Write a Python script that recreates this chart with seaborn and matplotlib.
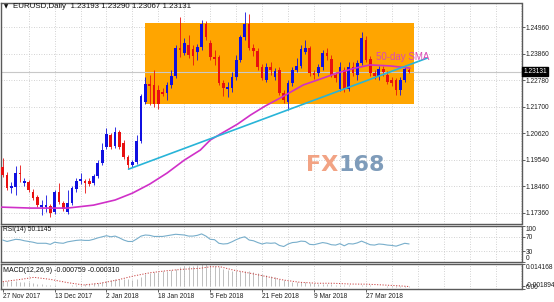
import numpy as np
import pandas as pd
import matplotlib
matplotlib.use("Agg")
import matplotlib.pyplot as plt
import matplotlib.transforms as mtransforms
from matplotlib.patches import Rectangle
import seaborn as sns

sns.set_theme(style="white")
plt.rcParams['font.family'] = ['Liberation Sans', 'DejaVu Sans']

# ---------------- data ----------------
date_label_bars = [0, 12, 24, 36, 48, 60, 72, 84]
date_labels = ["27 Nov 2017", "13 Dec 2017", "2 Jan 2018", "18 Jan 2018",
               "5 Feb 2018", "21 Feb 2018", "9 Mar 2018", "27 Mar 2018"]

opens = [1.1924, 1.1891, 1.1838, 1.1842, 1.1899, 1.1858, 1.1863, 1.1822, 1.1801, 1.1760,
         1.1760, 1.1764, 1.1740, 1.1822, 1.1777, 1.1740, 1.1777, 1.1834, 1.1867, 1.1867,
         1.1867, 1.1858, 1.1887, 1.1940, 1.2006, 1.2055, 1.2010, 1.2067, 1.2022, 1.1965,
         1.1932, 1.1944, 1.2030, 1.2189, 1.2263, 1.2259, 1.2239, 1.2230, 1.2226, 1.2259,
         1.2296, 1.2410, 1.2390, 1.2422, 1.2406, 1.2394, 1.2414, 1.2508, 1.2431, 1.2373,
         1.2373, 1.2267, 1.2243, 1.2247, 1.2292, 1.2361, 1.2455, 1.2508, 1.2410, 1.2398,
         1.2333, 1.2279, 1.2333, 1.2292, 1.2320, 1.2226, 1.2189, 1.2267, 1.2320, 1.2337,
         1.2394, 1.2410, 1.2308, 1.2308, 1.2333, 1.2390, 1.2365, 1.2300, 1.2243, 1.2320,
         1.2243, 1.2333, 1.2300, 1.2349, 1.2443, 1.2365, 1.2308, 1.2296, 1.2324, 1.2300,
         1.2279, 1.2279, 1.2239, 1.2279, 1.23193]
highs = [1.1961, 1.1903, 1.1863, 1.1928, 1.1932, 1.1879, 1.1871, 1.1834, 1.1809, 1.1789,
         1.1809, 1.1773, 1.1830, 1.1858, 1.1785, 1.1830, 1.1846, 1.1879, 1.1899, 1.1875,
         1.1879, 1.1895, 1.1952, 1.2022, 1.2083, 1.2063, 1.2087, 1.2075, 1.2034, 1.1973,
         1.1952, 1.2055, 1.2222, 1.2292, 1.2300, 1.2320, 1.2259, 1.2247, 1.2271, 1.2320,
         1.2422, 1.2537, 1.2451, 1.2463, 1.2422, 1.2427, 1.2525, 1.2521, 1.2443, 1.2402,
         1.2382, 1.2279, 1.2271, 1.2312, 1.2382, 1.2463, 1.2557, 1.2549, 1.2427, 1.2410,
         1.2345, 1.2349, 1.2353, 1.2328, 1.2333, 1.2239, 1.2279, 1.2333, 1.2369, 1.2422,
         1.2443, 1.2418, 1.2320, 1.2345, 1.2402, 1.2410, 1.2382, 1.2312, 1.2353, 1.2333,
         1.2353, 1.2353, 1.2361, 1.2476, 1.2459, 1.2377, 1.2320, 1.2337, 1.2337, 1.2316,
         1.2292, 1.2288, 1.2292, 1.2337, 1.23290]
lows = [1.1883, 1.1830, 1.1818, 1.1809, 1.1863, 1.1846, 1.1822, 1.1789, 1.1760, 1.1728,
        1.1740, 1.1719, 1.1732, 1.1773, 1.1744, 1.1732, 1.1769, 1.1822, 1.1854, 1.1818,
        1.1846, 1.1850, 1.1879, 1.1932, 1.1997, 1.1997, 1.2001, 1.1997, 1.1957, 1.1916,
        1.1924, 1.1936, 1.2022, 1.2181, 1.2177, 1.2169, 1.2161, 1.2214, 1.2198, 1.2247,
        1.2288, 1.2373, 1.2382, 1.2369, 1.2341, 1.2361, 1.2402, 1.2443, 1.2361, 1.2341,
        1.2259, 1.2214, 1.2210, 1.2230, 1.2279, 1.2353, 1.2443, 1.2402, 1.2377, 1.2320,
        1.2279, 1.2271, 1.2300, 1.2279, 1.2218, 1.2185, 1.2157, 1.2255, 1.2312, 1.2328,
        1.2386, 1.2296, 1.2283, 1.2296, 1.2320, 1.2361, 1.2292, 1.2271, 1.2234, 1.2230,
        1.2234, 1.2296, 1.2279, 1.2341, 1.2353, 1.2296, 1.2283, 1.2279, 1.2296, 1.2263,
        1.2255, 1.2218, 1.2218, 1.2271, 1.23067]
closes = [1.1891, 1.1838, 1.1846, 1.1899, 1.1895, 1.1867, 1.1830, 1.1797, 1.1769, 1.1769,
          1.1769, 1.1736, 1.1822, 1.1781, 1.1752, 1.1777, 1.1838, 1.1867, 1.1875, 1.1858,
          1.1854, 1.1887, 1.1940, 1.1993, 1.2059, 1.2006, 1.2067, 1.2006, 1.1965, 1.1932,
          1.1944, 1.2030, 1.2214, 1.2263, 1.2255, 1.2181, 1.2181, 1.2222, 1.2259, 1.2296,
          1.2410, 1.2402, 1.2431, 1.2382, 1.2377, 1.2414, 1.2508, 1.2455, 1.2373, 1.2365,
          1.2267, 1.2247, 1.2251, 1.2292, 1.2361, 1.2455, 1.2508, 1.2410, 1.2398, 1.2333,
          1.2288, 1.2333, 1.2320, 1.2316, 1.2226, 1.2198, 1.2267, 1.2320, 1.2337, 1.2406,
          1.2410, 1.2308, 1.2300, 1.2333, 1.2390, 1.2377, 1.2300, 1.2288, 1.2333, 1.2243,
          1.2333, 1.2308, 1.2349, 1.2451, 1.2361, 1.2308, 1.2296, 1.2324, 1.2312, 1.2271,
          1.2267, 1.2239, 1.2279, 1.2324, 1.23131]

# 50-day SMA
sma_bars = [-0.5, 6.5, 15, 21, 26, 30, 34, 38, 42, 45.7, 48, 50.3, 54.3, 57.3,
            60.7, 64.2, 69.5, 73.4, 77.4, 81.5, 85, 89.6, 94.2]
sma_vals = [1.1760, 1.1756, 1.1756, 1.1768, 1.1789, 1.1817, 1.1854, 1.1899, 1.1952,
            1.1993, 1.2034, 1.2058, 1.2099, 1.2136, 1.2173, 1.2206, 1.2259, 1.2283,
            1.2308, 1.2328, 1.2341, 1.2337, 1.2328]

# trend line
trend_bars = [29.1, 98.2]
trend_vals = [1.1915, 1.2369]

# range box
box_bars = [32.8, 95.1]
box_prices = [1.2181, 1.2514]

price_ticks = [1.24960, 1.23860, 1.22780, 1.21700, 1.20620, 1.19540, 1.18460, 1.17360]
last_price = 1.23131

rsi_vals = [61, 57, 60, 63, 62, 59, 57, 55, 52, 52, 52, 49, 55, 53, 52, 56, 58, 60, 61, 60,
            60, 63, 67, 70, 73, 70, 72, 67, 61, 57, 57, 64, 72, 75, 74, 71, 71, 71, 73, 75,
            77, 76, 75, 72, 72, 74, 78, 72, 63, 62, 52, 50, 51, 56, 62, 67, 70, 61, 59, 54,
            50, 53, 52, 53, 46, 43, 50, 54, 55, 58, 57, 49, 48, 51, 54, 52, 48, 47, 51, 45,
            51, 50, 53, 58, 53, 48, 47, 50, 49, 47, 46, 44, 48, 52, 50.1145]

macd_main = [0.0032, 0.0031, 0.0030, 0.0030, 0.0029, 0.0027, 0.0024, 0.0020, 0.0015, 0.0011,
             0.0008, 0.0005, 0.0004, 0.0003, 0.0002, 0.0002, 0.0004, 0.0006, 0.0009, 0.0012,
             0.0014, 0.0017, 0.0022, 0.0028, 0.0035, 0.0040, 0.0044, 0.0046, 0.0046, 0.0043,
             0.0042, 0.0045, 0.0060, 0.0075, 0.0085, 0.0090, 0.0093, 0.0095, 0.0097, 0.0102,
             0.0112, 0.0120, 0.0126, 0.0130, 0.0131, 0.0133, 0.0140, 0.0141, 0.0138, 0.0132,
             0.0122, 0.0112, 0.0104, 0.0098, 0.0096, 0.0097, 0.0099, 0.0097, 0.0093, 0.0085,
             0.0077, 0.0071, 0.0065, 0.0058, 0.0045, 0.0038, 0.0032, 0.0028, 0.0026, 0.0025,
             0.0024, 0.0021, 0.0018, 0.0016, 0.0015, 0.0014, 0.0012, 0.0009, 0.0007, 0.0004,
             0.0004, 0.0003, 0.0003, 0.0006, 0.0007, 0.0005, 0.0003, 0.0001, -0.0001, -0.0003,
             -0.0005, -0.0007, -0.0009, -0.0008, -0.000759]

signal_bars = [0, 4.2, 7.2, 11, 15, 18.7, 22.6, 26.5, 30.3, 34.2, 38.1, 41.8, 45.7, 48,
               50.3, 53.3, 57.3, 61.2, 64.9, 68.8, 72.7, 76.4, 80.4, 84.3, 88, 91.9, 94]
signal_vals = [0.0028, 0.0043, 0.0056, 0.0043, 0.0022, 0.0007, 0.0018, 0.0039, 0.0065,
               0.0086, 0.0099, 0.0108, 0.0114, 0.0124, 0.0124, 0.0103, 0.0082, 0.0060,
               0.0039, 0.0024, 0.0018, 0.0018, 0.0013, 0.0012, 0.0007, 0.0001, -0.00031]
macd_top, macd_bottom = 0.014168, -0.001894

# ---------------- figure ----------------
W, H = 554, 302
fig = plt.figure(figsize=(W / 100, H / 100), dpi=100)
fig.patch.set_facecolor("white")

def frac_box(x0, y0, x1, y1):
    return [x0 / W, 1 - y1 / H, (x1 - x0) / W, (y1 - y0) / H]

ax = fig.add_axes(frac_box(1, 3, 521.5, 224))
ax_rsi = fig.add_axes(frac_box(1, 226, 521.5, 262), sharex=ax)
ax_macd = fig.add_axes(frac_box(1, 264, 521.5, 289), sharex=ax)

XMIN, XMAX = -0.4, 120.0
grid_kw = dict(color="#C4C4C4", lw=0.6, ls=(0, (1, 2)), zorder=0)
spine_col = "#5a5a5a"
tick_fs = 4.8

for a in (ax, ax_rsi, ax_macd):
    a.set_facecolor("white")
    for s in a.spines.values():
        s.set_color(spine_col)
        s.set_linewidth(1.0)
    for xb in range(6, 121, 6):
        a.axvline(xb, **grid_kw)
    a.yaxis.tick_right()
    a.tick_params(axis="y", length=2, width=0.5, pad=1, labelsize=tick_fs,
                  colors="#202020", direction="out", right=True, left=False)
    a.tick_params(axis="x", length=0, labelbottom=False, bottom=False)

# ---- main price panel ----
ax.set_xlim(XMIN, XMAX)
ax.set_ylim(1.16909, 1.25941)
for p in price_ticks:
    ax.axhline(p, **grid_kw)
ax.set_yticks(price_ticks)
ax.set_yticklabels([f"{p:.5f}" for p in price_ticks])

ax.add_patch(Rectangle((box_bars[0], box_prices[0]), box_bars[1] - box_bars[0],
                       box_prices[1] - box_prices[0], facecolor="#FFA500",
                       edgecolor="none", zorder=1))

ax.axhline(last_price, color="#C8C8C8", lw=0.8, zorder=1.5)

bars = np.arange(len(opens))
o = np.array(opens); c = np.array(closes)
up = c >= o
cols = np.where(up, "#1010E0", "#E81010")
ax.vlines(bars, lows, highs, colors=cols, lw=0.6, zorder=3)
body_lo = np.minimum(o, c)
body_h = np.maximum(np.abs(c - o), 0.00022)
ax.bar(bars, body_h, bottom=body_lo, width=0.62, color=cols, linewidth=0, zorder=3.5)

sns.lineplot(x=sma_bars, y=sma_vals, ax=ax, color="#D030C8", lw=1.2, zorder=4,
             sort=False, estimator=None)
sns.lineplot(x=trend_bars, y=trend_vals, ax=ax, color="#28B4D8", lw=1.2, zorder=4.2,
             sort=False, estimator=None)
ax.set_xlabel(""); ax.set_ylabel("")

ax.text(86.4, 1.2373, "50-day SMA", color="#DC48B4", fontsize=7, va="center",
        ha="left", zorder=5)

# watermark
ax.text(77.6, 1.1932, "FX", color="#F2A384", fontsize=16, fontweight="bold",
        ha="right", va="center", zorder=2, family="DejaVu Sans")
ax.text(77.6, 1.1932, "168", color="#7F9CBA", fontsize=16, fontweight="bold",
        ha="left", va="center", zorder=2, family="DejaVu Sans")

# current price tag
trans = mtransforms.blended_transform_factory(ax.transAxes, ax.transData)
ax.text(1.004, last_price, f"{last_price:.5f}", transform=trans, color="white",
        fontsize=tick_fs, va="center", ha="left", clip_on=False, zorder=10,
        bbox=dict(boxstyle="square,pad=0.18", fc="black", ec="black"))

def ftext(x, y, s, **kw):
    opts = dict(va="center", ha="left", fontsize=tick_fs, color="#101010")
    opts.update(kw)
    fig.text(x / W, 1 - y / H, s, **opts)

ftext(3.5, 7, "\u25bc", fontsize=4.0, family="DejaVu Sans")
ftext(12.7, 7, "EURUSD,Daily  1.23193 1.23290 1.23067 1.23131", fontsize=5.7)

# ---- RSI panel ----
ax_rsi.set_ylim(0, 100)
for lv in (70, 30):
    ax_rsi.axhline(lv, **grid_kw)
sns.lineplot(x=bars, y=rsi_vals, ax=ax_rsi, color="#78AECB", lw=0.8, zorder=3,
             sort=False, estimator=None)
ax_rsi.set_xlabel(""); ax_rsi.set_ylabel("")
ax_rsi.set_yticks([100, 70, 30, 0])
ax_rsi.set_yticklabels(["100", "70", "30", "0"])
labs = ax_rsi.get_yticklabels()
labs[0].set_va("top"); labs[3].set_va("bottom")
ftext(3, 229.5, "RSI(14) 50.1145")

# ---- MACD panel ----
ax_macd.set_ylim(macd_bottom, macd_top)
ax_macd.vlines(bars, 0, macd_main, colors="#B4B4B4", lw=0.6, zorder=2)
sns.lineplot(x=signal_bars, y=signal_vals, ax=ax_macd, color="#C84040", lw=0.7,
             zorder=3, sort=False, estimator=None)
ax_macd.lines[-1].set_linestyle((0, (1.2, 1.6)))
ax_macd.set_xlabel(""); ax_macd.set_ylabel("")
ax_macd.set_yticks([macd_top, 0, macd_bottom])
ax_macd.set_yticklabels(["0.014168", "0.00", "-0.001894"])
ml = ax_macd.get_yticklabels()
ml[0].set_va("top"); ml[2].set_va("bottom")
ftext(3, 270.5, "MACD(12,26,9) -0.000759 -0.000310", fontsize=5.0)

ax_macd.set_xticks(date_label_bars)
ax_macd.set_xticklabels(date_labels)
ax_macd.tick_params(axis="x", length=2, width=0.5, pad=1, labelsize=tick_fs,
                    labelbottom=True, bottom=True, colors="#202020")
for lab in ax_macd.get_xticklabels():
    lab.set_ha("left")

fig.savefig("out.png", dpi=100, facecolor="white")
